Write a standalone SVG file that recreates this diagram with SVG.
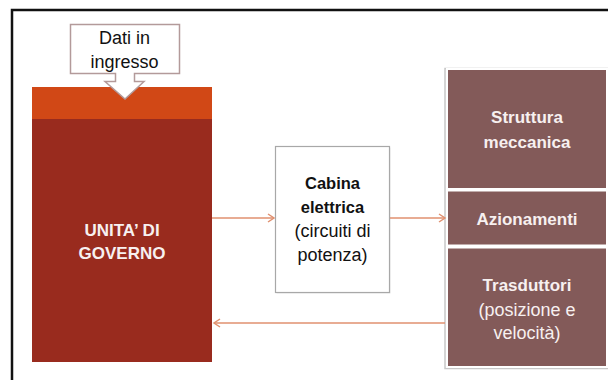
<svg xmlns="http://www.w3.org/2000/svg" width="608" height="380" viewBox="0 0 608 380">
<defs>
<style>
.t{font-family:"Liberation Sans",Arial,sans-serif;text-anchor:middle}
.w{fill:#f7f0f0;font-weight:bold}
.b{fill:#111;font-weight:bold}
.n{fill:#111}
.m{fill:#835a59;stroke:#ffffff;stroke-width:2}
.c{stroke:#e0906f;stroke-width:1.3;fill:none}
</style>
<marker id="ah" markerWidth="10" markerHeight="10" refX="8" refY="5" orient="auto" markerUnits="userSpaceOnUse">
<path d="M2,1 L8,5 L2,9" fill="none" stroke="#e0906f" stroke-width="1.5"/>
</marker>
</defs>
<rect width="608" height="380" fill="#ffffff"/>
<rect x="12" y="10" width="620" height="400" fill="none" stroke="#111" stroke-width="2.5"/>
<g id="unita">
<rect x="32" y="87" width="180" height="32" fill="#d14816"/>
<rect x="32" y="119" width="180" height="243" fill="#992b1e"/>
<text class="t w" x="122" y="236" font-size="17">UNITA’ DI</text>
<text class="t w" x="122" y="259" font-size="17">GOVERNO</text>
</g>
<g id="dati">
<path d="M70.5,24.5 H179.5 V73.5 H134.5 V81.5 H144 L125,99 L105,81.5 H115.5 V73.5 H70.5 Z" fill="#ffffff" stroke="#b39a9a" stroke-width="1.5"/>
<text class="t n" x="124.5" y="44" font-size="18">Dati in</text>
<text class="t n" x="124.5" y="68" font-size="18">ingresso</text>
</g>
<g id="cabina">
<rect x="276.5" y="147.5" width="114" height="146" fill="#d8d8d8" opacity="0.6"/>
<rect x="275.5" y="146.5" width="114" height="146" fill="#ffffff" stroke="#a8a8a8" stroke-width="1.2"/>
<text class="t b" x="332.5" y="189" font-size="16.5">Cabina</text>
<text class="t b" x="332.5" y="213" font-size="16.5">elettrica</text>
<text class="t n" x="332.5" y="237" font-size="18">(circuiti di</text>
<text class="t n" x="332.5" y="261" font-size="18">potenza)</text>
</g>
<g id="colonna">
<rect x="445" y="68.5" width="170" height="300" fill="#ffffff" stroke="#c8c8c8" stroke-width="1.5"/>
</g>
<g id="struttura">
<rect class="m" x="447" y="69" width="160" height="120"/>
<text class="t w" x="527" y="123" font-size="17">Struttura</text>
<text class="t w" x="527" y="148" font-size="17">meccanica</text>
</g>
<g id="azionamenti">
<rect class="m" x="447" y="190.5" width="160" height="55"/>
<text class="t w" x="527" y="225" font-size="17">Azionamenti</text>
</g>
<g id="trasduttori">
<rect class="m" x="447" y="247.5" width="160" height="119.5"/>
<text class="t w" x="527" y="291" font-size="17">Trasduttori</text>
<text class="t" x="527" y="316" font-size="18" fill="#f7f0f0">(posizione e</text>
<text class="t" x="527" y="339" font-size="18" fill="#f7f0f0">velocità)</text>
</g>
<g id="connettori">
<line class="c" x1="212" y1="218" x2="274" y2="218" marker-end="url(#ah)"/>
<line class="c" x1="390" y1="218" x2="445" y2="218" marker-end="url(#ah)"/>
<line class="c" x1="445" y1="323" x2="214" y2="323" marker-end="url(#ah)"/>
</g>
</svg>
